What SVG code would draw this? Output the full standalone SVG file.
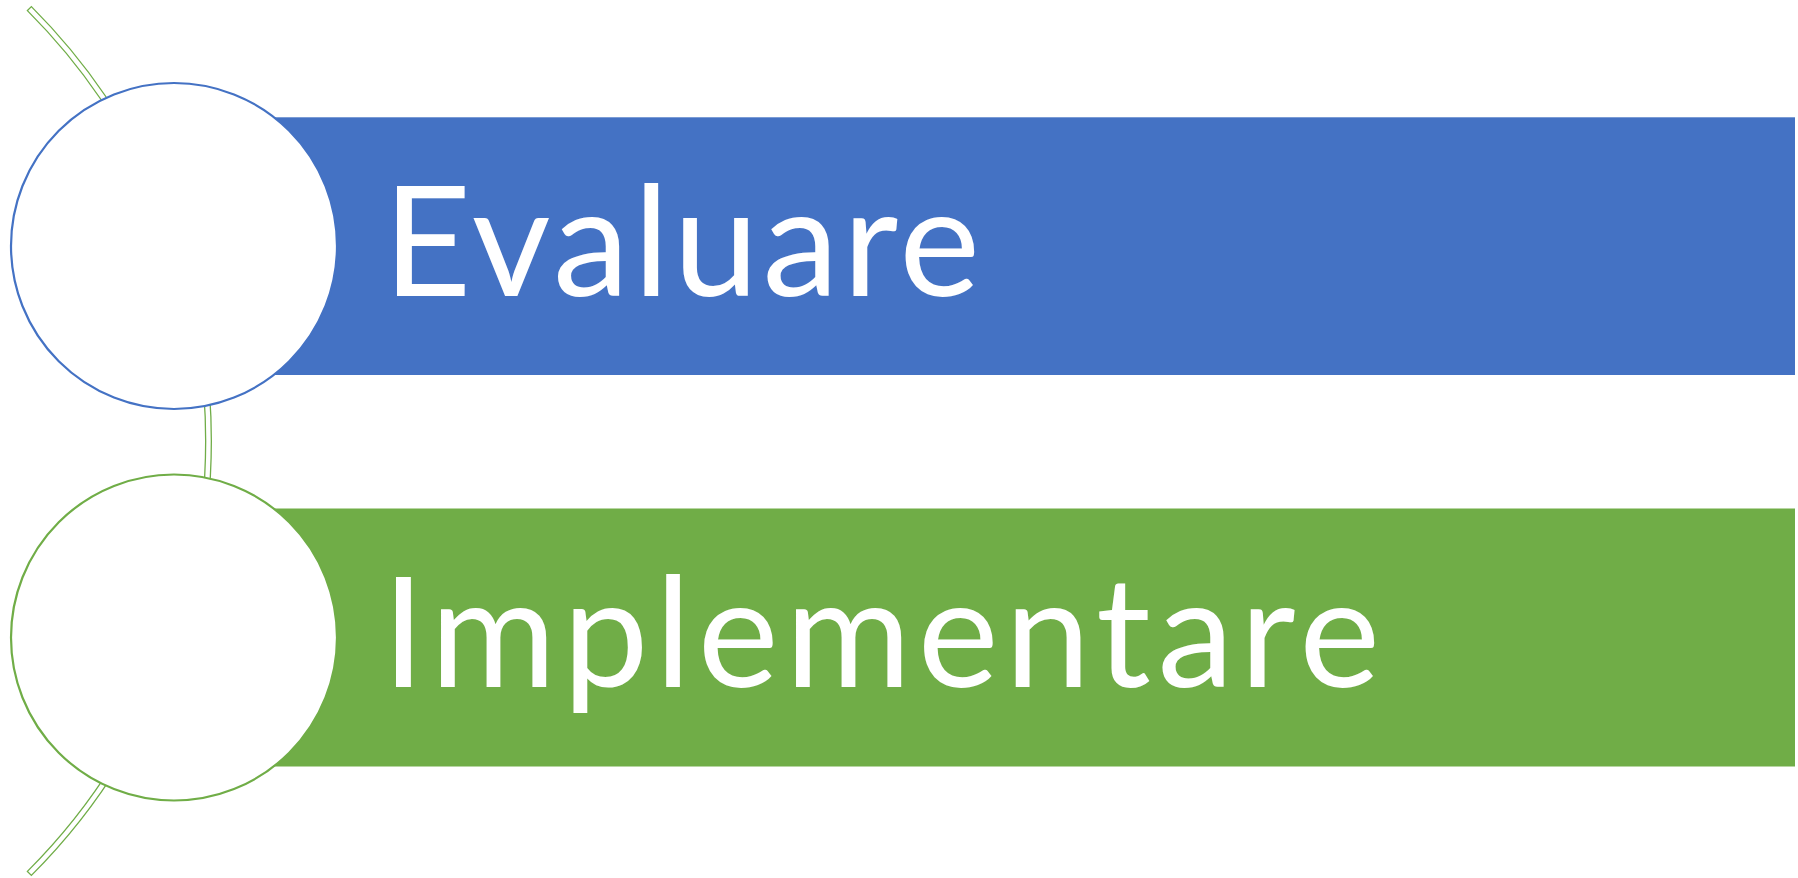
<svg xmlns="http://www.w3.org/2000/svg" width="1798" height="878" viewBox="0 0 1798 878">
  <style>
    .arc { fill: #ffffff; stroke: #70AD47; stroke-width: 1.3; }
    .bar-blue { fill: #4472C4; }
    .bar-green { fill: #70AD47; }
    .circ { fill: #ffffff; stroke-width: 2.2; }
    .circ-blue { stroke: #4472C4; }
    .circ-green { stroke: #70AD47; }
    .label { fill: #ffffff; font-family: Lato, "Open Sans", "Liberation Sans", sans-serif; font-size: 153px; }
  </style>
  <rect width="1798" height="878" fill="#ffffff"/>
  <g id="connectors">
    <path class="arc" d="M 31.4 6.6 A 614.3 614.3 0 0 1 31.4 875.4 L 27.4 871.4 A 608.7 608.7 0 0 0 27.4 10.6 Z"/>
  </g>
  <g id="node-evaluare">
    <rect class="bar-blue" x="174" y="117.3" width="1621" height="257.7"/>
    <circle class="circ circ-blue" cx="174" cy="246" r="163"/>
    <text class="label" x="383" y="296" textLength="597" lengthAdjust="spacing">Evaluare</text>
  </g>
  <g id="node-implementare">
    <rect class="bar-green" x="174" y="508.5" width="1621" height="258"/>
    <circle class="circ circ-green" cx="174" cy="637.5" r="163"/>
    <text class="label" x="382" y="687" textLength="998" lengthAdjust="spacing">Implementare</text>
  </g>
</svg>
